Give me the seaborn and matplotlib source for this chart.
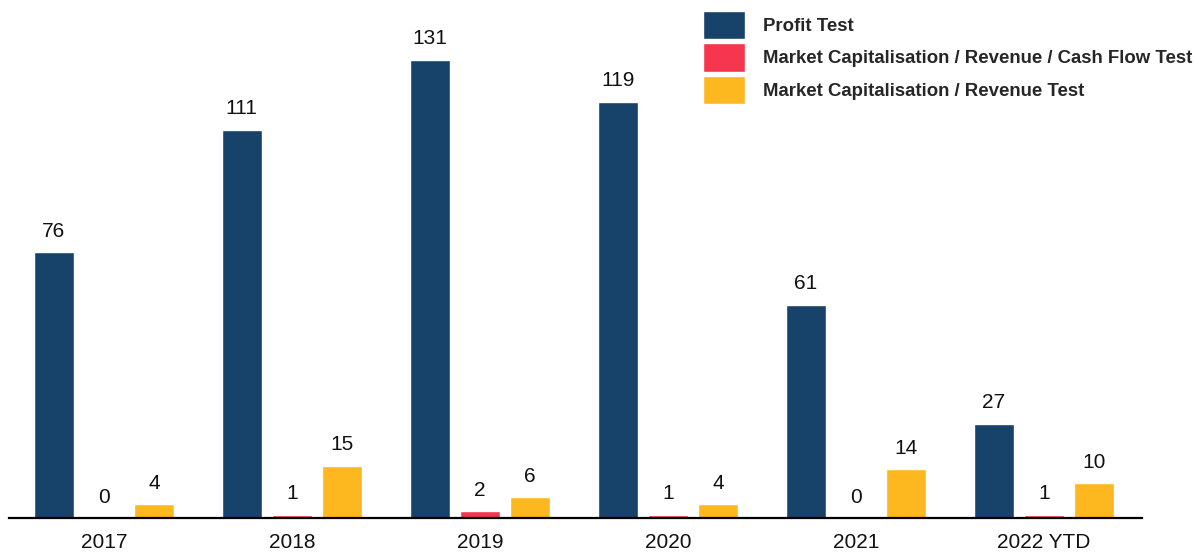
import pandas as pd
import matplotlib.pyplot as plt
import seaborn as sns

# listings by admission test, per year
years = ['2017', '2018', '2019', '2020', '2021', '2022 YTD']
tests = ['Profit Test',
         'Market Capitalisation / Revenue / Cash Flow Test',
         'Market Capitalisation / Revenue Test']
profit = [76, 111, 131, 119, 61, 27]
mcap_rev_cf = [0, 1, 2, 1, 0, 1]
mcap_rev = [4, 15, 6, 4, 14, 10]

colors = ['#17436B', '#F5364E', '#FDB81F']

# build long table for seaborn
rows = []
for test, vals in zip(tests, [profit, mcap_rev_cf, mcap_rev]):
    for y, v in zip(years, vals):
        rows.append({'Year': y, 'Test': test, 'Count': v})
df = pd.DataFrame(rows)

sns.set_style('white')
plt.rcParams['font.family'] = ['Liberation Sans', 'DejaVu Sans']

fig = plt.figure(figsize=(11.95, 5.52), dpi=100)
ax = fig.add_axes([9 / 1195, 1 - 518 / 552, 1133 / 1195, 518 / 552])

sns.barplot(data=df, x='Year', y='Count', hue='Test', hue_order=tests,
            order=years, palette=colors, gap=0.21, width=0.8,
            saturation=1, ax=ax, legend=True)

for cont in ax.containers:
    ax.bar_label(cont, padding=8, fontsize=15, color='#111111')

ax.set_xlim(-0.505, 5.522)
ax.set_ylim(0, 148)
ax.set_xlabel('')
ax.set_ylabel('')
ax.set_yticks([])
ax.tick_params(axis='x', length=0, pad=11, labelsize=15, labelcolor='#111111')
for side in ['top', 'right', 'left']:
    ax.spines[side].set_visible(False)
ax.spines['bottom'].set_color('black')
ax.spines['bottom'].set_linewidth(1.6)

handles, labels = ax.get_legend_handles_labels()
ax.get_legend().remove()
fig.legend(handles, labels, loc='upper left',
           bbox_to_anchor=(703 / 1195, 1 - 11 / 552),
           frameon=False, borderpad=0, borderaxespad=0,
           handlelength=2.26, handleheight=1.96, handletextpad=0.95,
           labelspacing=0.22, prop={'weight': 'bold', 'size': 13.4})

fig.savefig('out.png', dpi=100)
